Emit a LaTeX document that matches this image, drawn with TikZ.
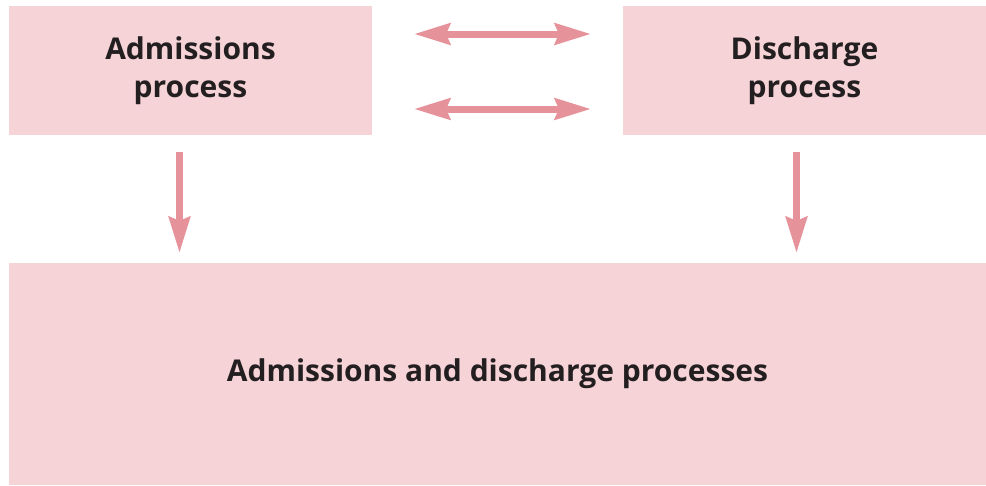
\documentclass[tikz,border=0pt]{standalone}
\usepackage{fontspec}
\setmainfont{Open Sans}
\usepackage{tikz}
\usetikzlibrary{arrows.meta}
\definecolor{boxpink}{HTML}{F5D3D7}
\definecolor{arrowpink}{HTML}{E6929A}
\definecolor{textdark}{HTML}{231F20}

\begin{document}
\begin{tikzpicture}[x=1pt,y=-1pt,
        box/.style={fill=boxpink,inner sep=0pt,outer sep=0pt,align=center,
            text=textdark,font=\fontsize{30}{38}\selectfont\bfseries},
        link/.style={arrowpink,line width=7pt,
            -{Stealth[length=36pt,width=21pt,inset=4pt]}},
        twolink/.style={link,{Stealth[length=36pt,width=21pt,inset=4pt]}-{Stealth[length=36pt,width=21pt,inset=4pt]}}]
    \useasboundingbox (0,0) rectangle (986,485);
    % the two processes
    \node[box,minimum width=363pt,minimum height=129pt] (adm) at (190.5,70.5) {Admissions\\process};
    \node[box,minimum width=363pt,minimum height=129pt] (dis) at (804.5,70.5) {Discharge\\process};
    % both together
    \node[box,minimum width=977pt,minimum height=222pt] (both) at (497.5,374) {Admissions and discharge processes};
    % between the two
    \draw[twolink,shorten <=42pt,shorten >=32pt] ([yshift=36.5pt]adm.east) -- ([yshift=36.5pt]dis.west);
    \draw[twolink,shorten <=42pt,shorten >=32pt] ([yshift=-38.5pt]adm.east) -- ([yshift=-38.5pt]dis.west);
    % down to the bottom box
    \draw[link,shorten <=17pt,shorten >=10pt] ([xshift=-11pt]adm.south) -- ([xshift=-11pt]adm.south |- both.north);
    \draw[link,shorten <=17pt,shorten >=10pt] ([xshift=-8pt]dis.south) -- ([xshift=-8pt]dis.south |- both.north);
\end{tikzpicture}
\end{document}
